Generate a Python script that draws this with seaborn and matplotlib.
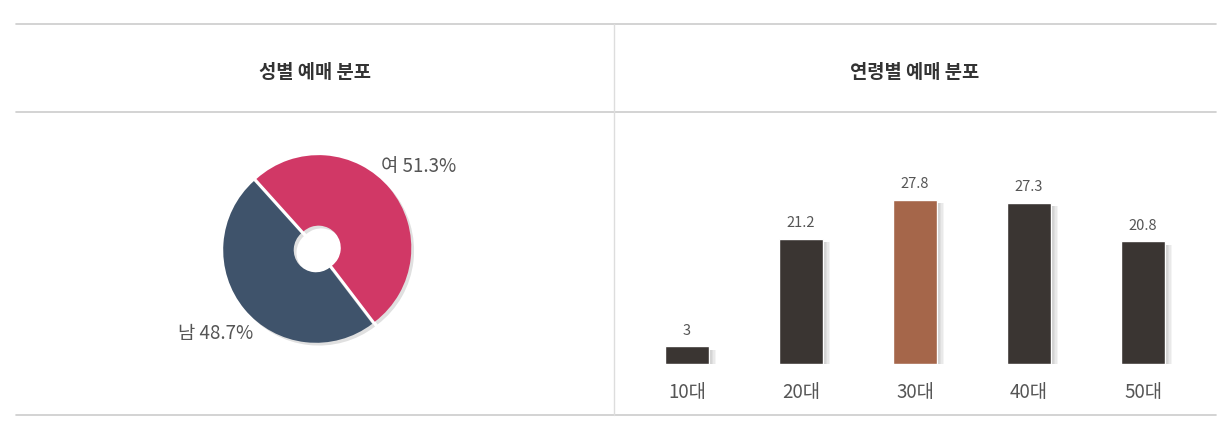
import matplotlib
matplotlib.use("Agg")
import matplotlib.pyplot as plt
import matplotlib.patheffects as pe
from matplotlib.lines import Line2D
import pandas as pd
import seaborn as sns

# data
gender_labels = ["여", "남"]
gender_share = [51.3, 48.7]
gender_colors = ["#d13866", "#3f536b"]

age_groups = ["10대", "20대", "30대", "40대", "50대"]
age_share = [3, 21.2, 27.8, 27.3, 20.8]
age_colors = ["#3a3532", "#3a3532", "#a5664a", "#3a3532", "#3a3532"]

panel_titles = ["성별 예매 분포", "연령별 예매 분포"]

sns.set_theme(style="white")
plt.rcParams["font.family"] = ["Noto Sans CJK KR", "DejaVu Sans"]

W, H = 1228, 439
fig = plt.figure(figsize=(W / 100, H / 100), dpi=100)


def fx(px):
    return px / W


def fy(py):
    return 1 - py / H


# table frame lines
line_col = "#cccccc"
for y in [25, 113, 416]:
    fig.add_artist(Line2D([fx(16), fx(1216)], [fy(y), fy(y)], color=line_col, lw=1.2))
fig.add_artist(Line2D([fx(614), fx(614)], [fy(25), fy(416)], color="#dddddd", lw=1))

# panel titles
for cx, t in zip([315, 915], panel_titles):
    fig.text(fx(cx), fy(72), t, ha="center", va="center", fontsize=13.5,
             fontweight="bold", color="#333333")

# pie / donut
pie_ax = fig.add_axes([fx(200), fy(367), fx(232), 232 / H])
shadow = [pe.SimplePatchShadow(offset=(2, -2), shadow_rgbFace="#000000", alpha=0.12),
          pe.Normal()]
wedges, texts = pie_ax.pie(
    gender_share,
    labels=[f"{l} {v}%" for l, v in zip(gender_labels, gender_share)],
    colors=gender_colors,
    startangle=132,
    counterclock=False,
    explode=[0.035, 0],
    labeldistance=1.4,
    wedgeprops=dict(width=0.76, edgecolor="none"),
    textprops=dict(fontsize=13.5, color="#555555"),
)
for w in wedges:
    w.set_path_effects(shadow)
for t in texts:
    t.set_ha("center")
    t.set_va("center")
pie_ax.set_xlim(-1.25, 1.25)
pie_ax.set_ylim(-1.25, 1.25)
pie_ax.set_aspect("equal")
pie_ax.axis("off")

# bar chart
bar_ax = fig.add_axes([fx(630), fy(365), fx(570), 177 / H])
df = pd.DataFrame({"age": age_groups, "share": age_share})
sns.barplot(data=df, x="age", y="share", hue="age", palette=age_colors,
            legend=False, width=0.39, saturation=1, ax=bar_ax)
# soft shadow to the right of each bar
bar_shadow = [pe.SimplePatchShadow(offset=(k, -2.5), shadow_rgbFace="#000000", alpha=0.045)
              for k in (1, 2, 3, 4, 5)] + [pe.Normal()]
for p, v in zip(bar_ax.patches, age_share):
    p.set_path_effects(bar_shadow)
    bar_ax.annotate(f"{v:g}", (p.get_x() + p.get_width() / 2, p.get_height()),
                    xytext=(0, 7), textcoords="offset points", ha="center",
                    va="bottom", fontsize=10.5, color="#555555")
bar_ax.set_xlim(-0.5, 4.5)
bar_ax.set_ylim(0, 30)
bar_ax.set_xlabel("")
bar_ax.set_ylabel("")
bar_ax.set_yticks([])
bar_ax.tick_params(axis="x", length=0, pad=12, labelsize=13.5, labelcolor="#555555")
sns.despine(ax=bar_ax, left=True, bottom=True)

fig.savefig("out.png", dpi=100, facecolor="white")
